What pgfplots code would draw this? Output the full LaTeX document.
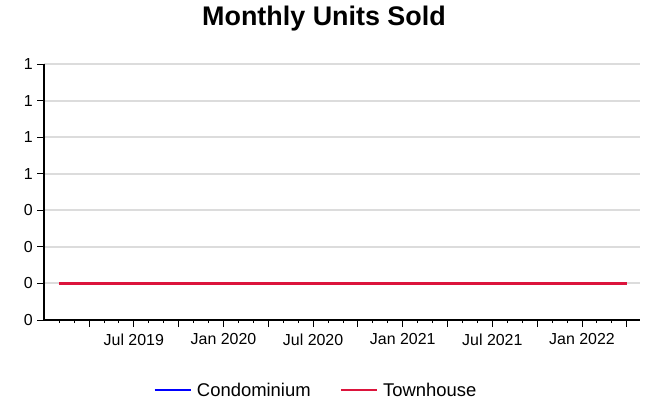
\documentclass[border=0pt]{standalone}
\usepackage{pgfplots}
\pgfplotsset{compat=1.18}
\usepackage{pgfplotstable}
\usepackage{fontspec}
\setmainfont{Liberation Sans}
\definecolor{condo}{RGB}{0,0,255}
\definecolor{town}{RGB}{220,20,60}
\definecolor{gridc}{RGB}{220,220,220}
% month index: 0 = Jan 2019
\pgfplotstableread{
x y
1 0
2 0
3 0
4 0
5 0
6 0
7 0
8 0
9 0
10 0
11 0
12 0
13 0
14 0
15 0
16 0
17 0
18 0
19 0
20 0
21 0
22 0
23 0
24 0
25 0
26 0
27 0
28 0
29 0
30 0
31 0
32 0
33 0
34 0
35 0
36 0
37 0
38 0
39 0
}\condotable
\pgfplotstableread{
x y
1 0
2 0
3 0
4 0
5 0
6 0
7 0
8 0
9 0
10 0
11 0
12 0
13 0
14 0
15 0
16 0
17 0
18 0
19 0
20 0
21 0
22 0
23 0
24 0
25 0
26 0
27 0
28 0
29 0
30 0
31 0
32 0
33 0
34 0
35 0
36 0
37 0
38 0
39 0
}\towntable
\begin{document}
\begin{tikzpicture}
\path[use as bounding box] (0,0) rectangle (648bp,401bp);
\begin{axis}[
  at={(44.2bp,81bp)}, anchor=south west,
  scale only axis, width=595.3bp, height=256bp,
  xmin=0, xmax=39.85, ymin=-0.2, ymax=1.2,
  axis x line=bottom, axis y line=left,
  axis line style={-, black, line width=2bp},
  ytick={-0.2,0,0.2,0.4,0.6,0.8,1.0,1.2},
  yticklabels={0,0,0,0,1,1,1,1},
  ymajorgrids, grid style={gridc, line width=2bp},
  xtick={3,6,...,39},
  xticklabels={,Jul 2019,,Jan 2020,,Jul 2020,,Jan 2021,,Jul 2021,,Jan 2022,},
  minor xtick={1,2,...,39},
  tick align=outside,
  major tick length=7bp, minor tick length=3bp,
  every tick/.style={black, line width=0.9bp},
  tick label style={font=\fontsize{16}{19}\selectfont},
  yticklabel style={xshift=-1bp},
  xticklabel style={yshift=-3bp},
  /pgf/number format/assume math mode=true,
  title={Monthly Units Sold},
  title style={font=\bfseries\fontsize{27}{32}\selectfont, at={(0.47,1)}, anchor=base, yshift=33bp},
  legend columns=2,
  legend style={draw=none, fill=none, at={(0.459,-0.274)}, anchor=center,
    font=\fontsize{18.5}{22}\selectfont,
    nodes={inner xsep=5bp},
    /tikz/every even column/.append style={column sep=24bp}},
  legend image code/.code={\draw[#1] (0bp,0bp) -- (36bp,0bp);},
]
\addplot[condo, line width=2.5bp] table[x=x,y=y] {\condotable};
\addlegendentry{Condominium}
\addplot[town, line width=2.5bp] table[x=x,y=y] {\towntable};
\addlegendentry{Townhouse}
\end{axis}
\end{tikzpicture}
\end{document}
